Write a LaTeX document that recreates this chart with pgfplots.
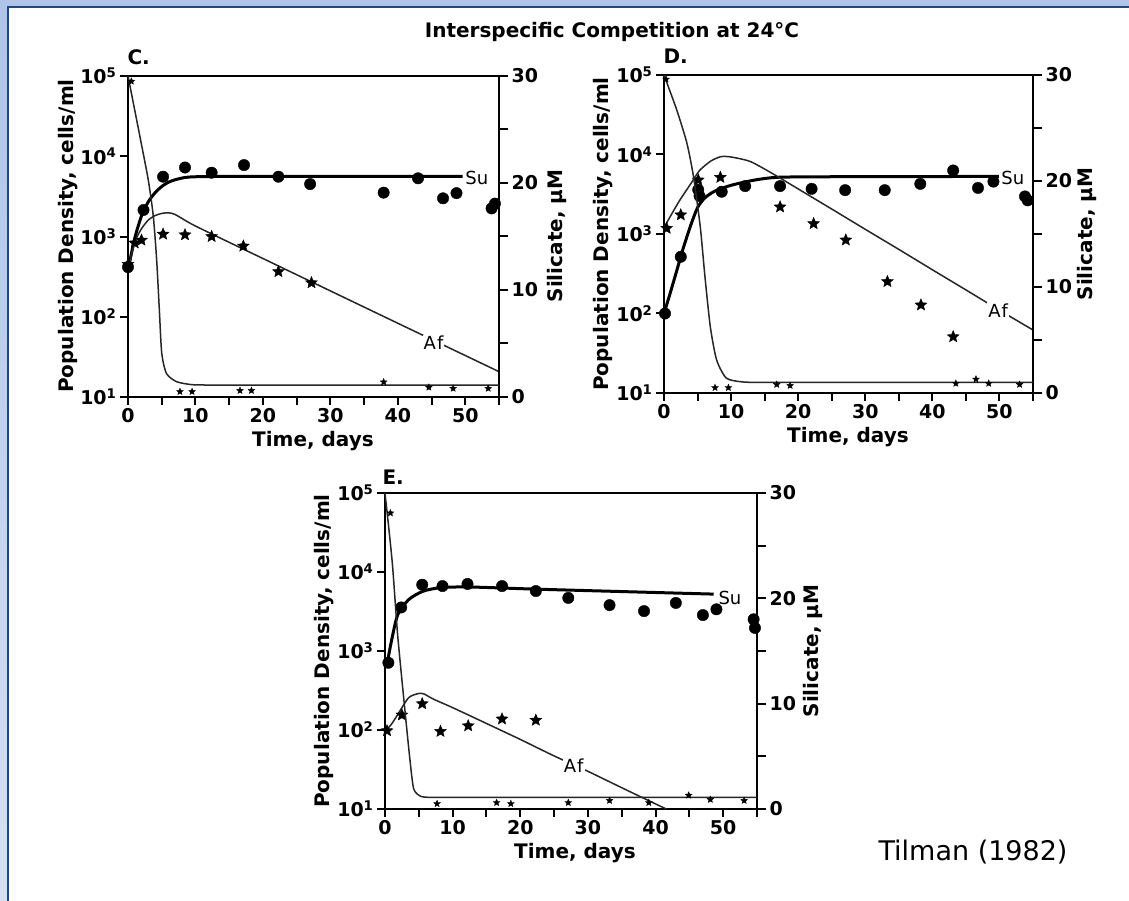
\documentclass[border=0pt]{standalone}
\usepackage{fontspec}
\setmainfont{DejaVu Sans}
\usepackage{pgfplots}
\pgfplotsset{compat=1.18}

\definecolor{frameLight}{RGB}{175,196,232}
\definecolor{frameLightB}{RGB}{214,224,242}
\definecolor{frameDark}{RGB}{31,73,125}

\newcommand{\lblfont}{\bfseries\fontsize{20}{20}\selectfont}
\newcommand{\tickfont}{\bfseries\fontsize{19}{19}\selectfont}
\newcommand{\curvefont}{\fontsize{18}{18}\selectfont}

% filled five-pointed star
\pgfdeclareplotmark{fstar}{%
  \pgfpathmoveto{\pgfpointpolar{90}{\pgfplotmarksize}}%
  \pgfpathlineto{\pgfpointpolar{126}{0.45\pgfplotmarksize}}%
  \pgfpathlineto{\pgfpointpolar{162}{\pgfplotmarksize}}%
  \pgfpathlineto{\pgfpointpolar{198}{0.45\pgfplotmarksize}}%
  \pgfpathlineto{\pgfpointpolar{234}{\pgfplotmarksize}}%
  \pgfpathlineto{\pgfpointpolar{270}{0.45\pgfplotmarksize}}%
  \pgfpathlineto{\pgfpointpolar{306}{\pgfplotmarksize}}%
  \pgfpathlineto{\pgfpointpolar{342}{0.45\pgfplotmarksize}}%
  \pgfpathlineto{\pgfpointpolar{18}{\pgfplotmarksize}}%
  \pgfpathlineto{\pgfpointpolar{54}{0.45\pgfplotmarksize}}%
  \pgfpathclose
  \pgfusepathqfillstroke
}

\tikzset{
  sucurve/.style={line width=3pt, black, smooth, tension=0.45},
  thincurve/.style={line width=1.5pt, black!85, smooth, tension=0.4},
  sucircle/.style={black, mark=*, mark size=5.7pt},
  afstar/.style={black, mark=fstar, mark size=6.2pt},
  simark/.style={black, mark=fstar, mark size=3.5pt},
  curvelbl/.style={font=\curvefont, inner sep=1pt},
}

\begin{document}
\begin{tikzpicture}
\path[use as bounding box] (0,0) rectangle (1129pt,-901pt);
\fill[white] (0,0) rectangle (1129pt,-901pt);
\fill[frameLight] (0,0) rectangle (1129pt,-6.5pt);
\shade[top color=frameLight, bottom color=frameLightB] (0,-6.5pt) rectangle (6.5pt,-901pt);
\fill[frameDark] (6.5pt,-6.5pt) rectangle (1129pt,-8.5pt);
\fill[frameDark] (6.5pt,-6.5pt) rectangle (8.5pt,-901pt);

% ---------------- Panel C ----------------
\begin{axis}[scale only axis, anchor=north west, at={(128pt,-76pt)}, width=371pt, height=321pt,
    xmin=0, xmax=55, ymode=log, ymin=10, ymax=100000,
    xtick={0,10,20,30,40,50}, minor xtick={5,15,25,35,45,55},
    ytick={10,100,1000,10000,100000},
    yticklabels={10\textsuperscript{1},10\textsuperscript{2},10\textsuperscript{3},10\textsuperscript{4},10\textsuperscript{5}},
    yminorticks=false, xtick pos=bottom, ytick pos=left, tick align=outside,
    major tick length=8pt, minor tick length=8pt,
    tick style={line width=2pt, black}, axis line style={line width=2.6pt},
    ticklabel style={font=\tickfont}, /pgf/number format/assume math mode=true,
    clip=false]
  \addplot[sucurve] coordinates {(0,380) (1,950) (2,1800) (3,2700) (4,3500) (5,4200) (6,4750) (7,5100) (8,5350) (9,5500) (11,5580) (15,5600) (30,5600) (49.6,5600)};
  \addplot[thincurve] coordinates {(0,380) (1,850) (2,1250) (3,1600) (4,1820) (5,1940) (6,1970) (7,1880) (10,1350) (20,532) (30,210) (40,83) (55,20.7)};
  \addplot[sucircle, only marks] coordinates {(0,415) (2.3,2140) (5.2,5560) (8.45,7240) (12.4,6240) (17.2,7760) (22.3,5560) (27,4500) (37.9,3520) (43,5310) (46.7,2990) (48.7,3470) (53.9,2240) (54.4,2570)};
  \addplot[afstar, only marks] coordinates {(0,450) (1,830) (2,900) (5.2,1070) (8.45,1050) (12.4,1000) (17.1,760) (22.3,365) (27.2,265)};
  \node[curvelbl] at (axis cs:51.7,5370) {Su};
  \node[curvelbl, fill=white] at (axis cs:45.3,48) {A\kern1pt f};
\end{axis}
\begin{axis}[scale only axis, anchor=north west, at={(128pt,-76pt)}, width=371pt, height=321pt,
    xmin=0, xmax=55, ymin=0, ymax=30, hide x axis, axis y line*=right,
    ytick={0,10,20,30}, minor ytick={5,15,25}, tick align=outside,
    major tick length=9pt, minor tick length=9pt,
    tick style={line width=2pt, black}, axis line style={line width=2.6pt},
    ticklabel style={font=\tickfont}, /pgf/number format/assume math mode=true,
    clip=false]
  \addplot[thincurve] coordinates {(0,30) (1.78,24.3) (3,20.3) (3.75,16.9) (4.25,12.8) (4.65,8.1) (5,4.1) (5.7,2.2) (7.2,1.43) (9.5,1.15) (12,1.12) (16,1.12) (22,1.12) (30,1.12) (40,1.12) (55,1.12)};
  \addplot[simark, only marks] coordinates {(0.5,29.5) (7.7,0.5) (9.5,0.5) (16.6,0.6) (18.3,0.6) (37.9,1.4) (44.6,0.9) (48.2,0.8) (53.4,0.8)};
\end{axis}

% ---------------- Panel D ----------------
\begin{axis}[scale only axis, anchor=north west, at={(664pt,-75pt)}, width=369pt, height=318pt,
    xmin=0, xmax=55, ymode=log, ymin=10, ymax=100000,
    xtick={0,10,20,30,40,50}, minor xtick={5,15,25,35,45,55},
    ytick={10,100,1000,10000,100000},
    yticklabels={10\textsuperscript{1},10\textsuperscript{2},10\textsuperscript{3},10\textsuperscript{4},10\textsuperscript{5}},
    yminorticks=false, xtick pos=bottom, ytick pos=left, tick align=outside,
    major tick length=8pt, minor tick length=8pt,
    tick style={line width=2pt, black}, axis line style={line width=2.6pt},
    ticklabel style={font=\tickfont}, /pgf/number format/assume math mode=true,
    clip=false]
  \addplot[sucurve] coordinates {(0,100) (1,190) (2,370) (2.5,520) (3,720) (4,1300) (5,2150) (6,2800) (7,3250) (8,3600) (9,3850) (10,4100) (12,4500) (14,4850) (16,5100) (18,5200) (25,5250) (49.9,5300)};
  \addplot[thincurve] coordinates {(0,1200) (1,1700) (2.4,2700) (4,4300) (5.3,6300) (7,8300) (8.5,9400) (10,9300) (12.8,8200) (15.8,6000) (20,3690) (25,2060) (30,1145) (35,640) (40,355) (45,198) (50,110) (55,62)};
  \addplot[sucircle, only marks] coordinates {(0.15,100) (2.5,517) (5.1,3600) (5.3,3000) (8.6,3400) (12.1,4000) (17.3,4000) (22,3700) (27,3560) (32.9,3560) (38.2,4270) (43.1,6300) (46.8,3800) (49.1,4560) (53.8,2970) (54.2,2650)};
  \addplot[afstar, only marks] coordinates {(0.4,1180) (2.5,1740) (5.1,4780) (8.4,5160) (17.3,2190) (22.3,1350) (27.1,840) (33.3,252) (38.3,128) (43.1,51)};
  \node[curvelbl] at (axis cs:52,5040) {Su};
  \node[curvelbl, fill=white] at (axis cs:49.8,110) {A\kern1pt f};
\end{axis}
\begin{axis}[scale only axis, anchor=north west, at={(664pt,-75pt)}, width=369pt, height=318pt,
    xmin=0, xmax=55, ymin=0, ymax=30, hide x axis, axis y line*=right,
    ytick={0,10,20,30}, minor ytick={5,15,25}, tick align=outside,
    major tick length=9pt, minor tick length=9pt,
    tick style={line width=2pt, black}, axis line style={line width=2.6pt},
    ticklabel style={font=\tickfont}, /pgf/number format/assume math mode=true,
    clip=false]
  \addplot[thincurve] coordinates {(0,30) (1.9,26.7) (3.4,23.6) (4.4,20.4) (5.4,15.7) (6.1,11) (6.9,6.25) (7.85,3.1) (9.3,1.4) (11.6,1.05) (14,1.0) (18,1.0) (25,1.0) (35,1.0) (45,1.0) (55,1.0)};
  \addplot[simark, only marks] coordinates {(0.3,29.6) (7.6,0.5) (9.6,0.5) (16.8,0.8) (18.8,0.7) (43.5,0.9) (46.5,1.3) (48.4,0.9) (53,0.8)};
\end{axis}

% ---------------- Panel E ----------------
\begin{axis}[scale only axis, anchor=north west, at={(385pt,-493pt)}, width=372pt, height=316pt,
    xmin=0, xmax=55, ymode=log, ymin=10, ymax=100000,
    xtick={0,10,20,30,40,50}, minor xtick={5,15,25,35,45,55},
    ytick={10,100,1000,10000,100000},
    yticklabels={10\textsuperscript{1},10\textsuperscript{2},10\textsuperscript{3},10\textsuperscript{4},10\textsuperscript{5}},
    yminorticks=false, xtick pos=bottom, ytick pos=left, tick align=outside,
    major tick length=8pt, minor tick length=8pt,
    tick style={line width=2pt, black}, axis line style={line width=2.6pt},
    ticklabel style={font=\tickfont}, /pgf/number format/assume math mode=true,
    clip=false]
  \addplot[sucurve] coordinates {(0.3,680) (1,1400) (1.9,2900) (3.5,4470) (5.6,5700) (8.2,6330) (12.5,6460) (23.1,6040) (48.6,5250)};
  \addplot[thincurve] coordinates {(0,95) (1,120) (1.9,158) (3.5,257) (5,290) (5.8,285) (7.2,245) (10,192) (15,121) (20,76) (25,47) (30,30) (35,18.6) (40,11.6) (41.6,10)};
  \addplot[sucircle, only marks] coordinates {(0.5,710) (2.4,3560) (5.5,6900) (8.5,6640) (12.2,7060) (17.3,6640) (22.3,5740) (27.1,4700) (33.2,3810) (38.3,3200) (43,4060) (47,2850) (49,3370) (54.5,2520) (54.7,1960)};
  \addplot[afstar, only marks] coordinates {(0.3,98) (2.5,155) (5.5,215) (8.2,96) (12.3,113) (17.3,138) (22.3,133)};
  \node[curvelbl] at (axis cs:51,4700) {Su};
  \node[curvelbl, fill=white] at (axis cs:27.9,35) {A\kern1pt f};
\end{axis}
\begin{axis}[scale only axis, anchor=north west, at={(385pt,-493pt)}, width=372pt, height=316pt,
    xmin=0, xmax=55, ymin=0, ymax=30, hide x axis, axis y line*=right,
    ytick={0,10,20,30}, minor ytick={5,15,25}, tick align=outside,
    major tick length=9pt, minor tick length=9pt,
    tick style={line width=2pt, black}, axis line style={line width=2.6pt},
    ticklabel style={font=\tickfont}, /pgf/number format/assume math mode=true,
    clip=false]
  \addplot[thincurve] coordinates {(0,30) (1.06,23.5) (1.86,16.6) (2.8,10.3) (3.7,4.6) (4.25,1.9) (5.3,1.2) (7,1.1) (10,1.1) (15,1.1) (22,1.1) (30,1.1) (40,1.1) (55,1.1)};
  \addplot[simark, only marks] coordinates {(0.8,28.1) (7.7,0.5) (16.5,0.6) (18.6,0.5) (27.1,0.6) (33.2,0.8) (39,0.6) (44.9,1.3) (48.1,0.9) (53.1,0.8)};
\end{axis}

% ---------------- Text ----------------
\node[font=\lblfont] at (612pt,-32pt) {Interspecific Competition at 24°C};
\node[font=\lblfont, anchor=base west] at (124pt,-65pt) {C.};
\node[font=\lblfont, anchor=base west] at (660pt,-64pt) {D.};
\node[font=\lblfont, anchor=base west] at (379pt,-484pt) {E.};
\node[font=\lblfont, rotate=90] at (68pt,-236pt) {Population Density, cells/ml};
\node[font=\lblfont, rotate=90] at (557pt,-236pt) {Silicate, µM};
\node[font=\lblfont] at (313pt,-441pt) {Time, days};
\node[font=\lblfont, rotate=90] at (603pt,-234pt) {Population Density, cells/ml};
\node[font=\lblfont, rotate=90] at (1087pt,-234pt) {Silicate, µM};
\node[font=\lblfont] at (848pt,-437pt) {Time, days};
\node[font=\lblfont, rotate=90] at (324pt,-651pt) {Population Density, cells/ml};
\node[font=\lblfont, rotate=90] at (813pt,-651pt) {Silicate, µM};
\node[font=\lblfont] at (575pt,-853pt) {Time, days};
\node[font=\fontsize{27}{27}\selectfont, anchor=base west] at (875pt,-860pt) {Tilman (1982)};
\end{tikzpicture}
\end{document}
